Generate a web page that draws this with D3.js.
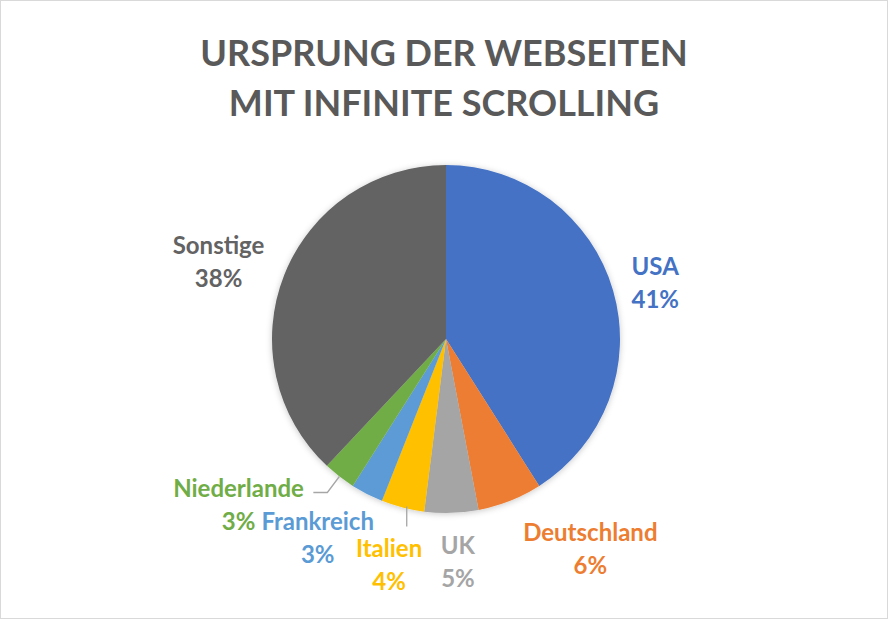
<!DOCTYPE html>
<html>
<head>
<meta charset="utf-8">
<script src="https://cdn.jsdelivr.net/npm/d3@7"></script>
<style>
  html, body { margin: 0; padding: 0; background: #fff; }
  svg { display: block; }
</style>
</head>
<body>
<div id="chart"></div>
<script>
var WIDTH = 888, HEIGHT = 619;

var titleLines = ["URSPRUNG DER WEBSEITEN", "MIT INFINITE SCROLLING"];
var countries = ["USA", "Deutschland", "UK", "Italien", "Frankreich", "Niederlande", "Sonstige"];
var shares = [41, 6, 5, 4, 3, 3, 38];
var colors = ["#4472C4", "#ED7D31", "#A5A5A5", "#FFC000", "#5B9BD5", "#70AD47", "#636363"];

// label nudges away from the outer centroid (Excel pushes the small ones apart)
var nudge = {
	"USA": [-3, 4],
	"Deutschland": [63, 3],
	"UK": [5, 0],
	"Italien": [-2, 10],
	"Frankreich": [-28, 0],
	"Niederlande": [-72, -11],
	"Sonstige": [-22, 2]
};

var cx = 446, cy = 339, radius = 174;

var data = countries.map(function(c, i) {
	return { name: c, value: shares[i], color: colors[i] };
});

var svg = d3.select("#chart").append("svg")
	.attr("width", WIDTH)
	.attr("height", HEIGHT);

var defs = svg.append("defs");
var shadow = defs.append("filter")
	.attr("id", "soft")
	.attr("x", "-20%").attr("y", "-20%")
	.attr("width", "140%").attr("height", "140%");
shadow.append("feDropShadow")
	.attr("dx", 0).attr("dy", 1)
	.attr("stdDeviation", 3)
	.attr("flood-color", "#000")
	.attr("flood-opacity", 0.22);

svg.append("rect")
	.attr("x", 0.5).attr("y", 0.5)
	.attr("width", WIDTH - 1).attr("height", HEIGHT - 1)
	.attr("fill", "#fff")
	.attr("stroke", "#d9d9d9");

svg.append("text")
	.attr("x", WIDTH / 2)
	.attr("text-anchor", "middle")
	.style("font-family", "Lato, 'Open Sans', sans-serif")
	.style("font-weight", "bold")
	.style("font-size", "36px")
	.attr("fill", "#595959")
	.selectAll("tspan")
	.data(titleLines)
	.enter().append("tspan")
	.attr("x", WIDTH / 2)
	.attr("y", function(d, i) { return 66 + i * 50; })
	.text(function(d) { return d; });

var pie = d3.pie().sort(null).value(function(d) { return d.value; });
var arcs = pie(data);

var arc = d3.arc().innerRadius(0).outerRadius(radius);
var labelArc = d3.arc().innerRadius(radius * 1.27).outerRadius(radius * 1.27);
var edgeArc = d3.arc().innerRadius(radius).outerRadius(radius);

var g = svg.append("g").attr("transform", "translate(" + cx + "," + cy + ")");

g.append("g")
	.attr("filter", "url(#soft)")
	.selectAll("path.slice")
	.data(arcs)
	.enter().append("path")
	.attr("class", "slice")
	.attr("d", arc)
	.attr("fill", function(d) { return d.data.color; });

// leader lines for the two crowded slices
var edgeNL = edgeArc.centroid(arcs[5]);
g.append("polyline")
	.attr("points", [edgeNL, [edgeNL[0] - 12, edgeNL[1] + 16], [edgeNL[0] - 26, edgeNL[1] + 16]].join(" "))
	.attr("fill", "none")
	.attr("stroke", "#a6a6a6")
	.attr("stroke-width", 1.3);

var edgeIT = edgeArc.centroid(arcs[3]);
g.append("line")
	.attr("x1", edgeIT[0] + 4).attr("y1", edgeIT[1] - 1)
	.attr("x2", edgeIT[0] + 4).attr("y2", edgeIT[1] + 19)
	.attr("stroke", "#a6a6a6")
	.attr("stroke-width", 1.3);

var labels = g.selectAll("text.lbl")
	.data(arcs)
	.enter().append("text")
	.attr("class", "lbl")
	.attr("text-anchor", "middle")
	.style("font-family", "Lato, 'Open Sans', sans-serif")
	.style("font-weight", "bold")
	.style("font-size", "24px")
	.attr("fill", function(d) { return d.data.color; })
	.attr("transform", function(d) {
		var c = labelArc.centroid(d);
		var n = nudge[d.data.name];
		return "translate(" + (c[0] + n[0]) + "," + (c[1] + n[1]) + ")";
	});

labels.append("tspan")
	.attr("x", 0).attr("y", -6)
	.text(function(d) { return d.data.name; });

labels.append("tspan")
	.attr("x", 0).attr("y", 27)
	.text(function(d) { return d.data.value + "%"; });
</script>
</body>
</html>
